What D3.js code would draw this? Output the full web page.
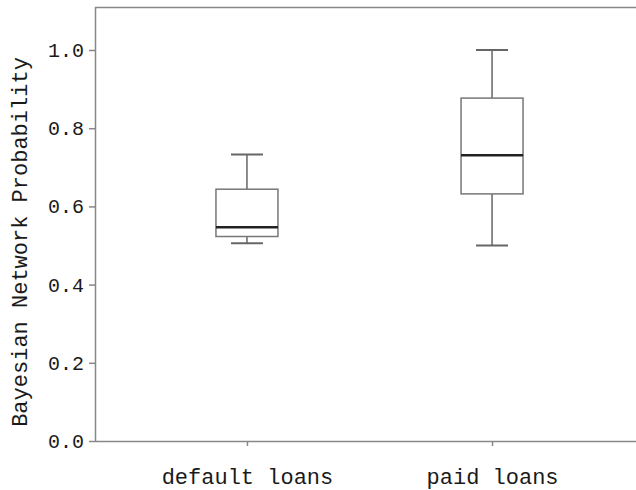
<!DOCTYPE html>
<html>
<head>
<meta charset="utf-8">
<script src="https://cdn.jsdelivr.net/npm/d3@7"></script>
<style>
  body { margin: 0; background: #fff; }
  text { font-family: "Liberation Mono", "DejaVu Sans Mono", monospace; fill: #1a1a1a; }
</style>
</head>
<body>
<svg class="chart"></svg>
<script>
var categories = ["default loans", "paid loans"];
// five-number summaries: lower whisker, q1, median, q3, upper whisker
var lowWhisker = [0.506, 0.500];
var q1 = [0.523, 0.632];
var median = [0.547, 0.731];
var q3 = [0.644, 0.877];
var highWhisker = [0.733, 1.0];
var yTicks = [0, 0.2, 0.4, 0.6, 0.8, 1.0];

var width = 636, height = 490,
    plotLeft = 95, plotTop = 7, plotBottom = 441;

var svg = d3.select(".chart")
    .attr("width", width)
    .attr("height", height);

var y = d3.scaleLinear().domain([0, 1.11]).range([plotBottom, plotTop]);

// the plot runs a bit past the right edge of the picture
var x = d3.scalePoint().domain(categories).range([plotLeft, 644]).padding(0.62);

var boxW = 62, capW = 32;

var boxes = categories.map(function(c, i) {
    return {name: c, lo: lowWhisker[i], q1: q1[i], med: median[i], q3: q3[i], hi: highWhisker[i]};
});

// frame: top line
svg.append("line")
    .attr("x1", plotLeft).attr("x2", width)
    .attr("y1", plotTop + 0.5).attr("y2", plotTop + 0.5)
    .attr("stroke", "#888").attr("stroke-width", 1.5);

// y axis
var yAxis = svg.append("g")
    .attr("transform", "translate(" + plotLeft + ",0)")
    .call(d3.axisLeft(y).tickValues(yTicks).tickFormat(d3.format(".1f")).tickSize(6).tickPadding(5));
yAxis.select(".domain").attr("d", "M0.5," + plotTop + "V" + plotBottom);

// x axis
var xAxis = svg.append("g")
    .attr("transform", "translate(0," + plotBottom + ")")
    .call(d3.axisBottom(x).tickSize(5).tickPadding(22));
xAxis.select(".domain").attr("d", "M" + plotLeft + ",0.5H" + width);

svg.selectAll(".domain, .tick line").attr("stroke", "#888").attr("stroke-width", 1.5);
yAxis.selectAll("text").style("font-size", "20px").attr("fill", "#1a1a1a");
xAxis.selectAll("text").style("font-size", "22px").attr("fill", "#1a1a1a");

svg.append("text")
    .attr("transform", "translate(27,242) rotate(-90)")
    .attr("text-anchor", "middle")
    .style("font-size", "22px")
    .text("Bayesian Network Probability");

var g = svg.selectAll(".box").data(boxes).enter().append("g").attr("class", "box");

// whiskers
g.append("line")
    .attr("x1", function(d) { return x(d.name); })
    .attr("x2", function(d) { return x(d.name); })
    .attr("y1", function(d) { return y(d.hi); })
    .attr("y2", function(d) { return y(d.q3); })
    .attr("stroke", "#666").attr("stroke-width", 1.5);
g.append("line")
    .attr("x1", function(d) { return x(d.name); })
    .attr("x2", function(d) { return x(d.name); })
    .attr("y1", function(d) { return y(d.q1); })
    .attr("y2", function(d) { return y(d.lo); })
    .attr("stroke", "#666").attr("stroke-width", 1.5);

// caps
["hi", "lo"].forEach(function(k) {
    g.append("line")
        .attr("x1", function(d) { return x(d.name) - capW / 2; })
        .attr("x2", function(d) { return x(d.name) + capW / 2; })
        .attr("y1", function(d) { return y(d[k]); })
        .attr("y2", function(d) { return y(d[k]); })
        .attr("stroke", "#666").attr("stroke-width", 2);
});

// box
g.append("rect")
    .attr("x", function(d) { return x(d.name) - boxW / 2; })
    .attr("width", boxW)
    .attr("y", function(d) { return y(d.q3); })
    .attr("height", function(d) { return y(d.q1) - y(d.q3); })
    .attr("fill", "#fff")
    .attr("stroke", "#777").attr("stroke-width", 1.5);

// median
g.append("line")
    .attr("x1", function(d) { return x(d.name) - boxW / 2; })
    .attr("x2", function(d) { return x(d.name) + boxW / 2; })
    .attr("y1", function(d) { return y(d.med); })
    .attr("y2", function(d) { return y(d.med); })
    .attr("stroke", "#222").attr("stroke-width", 2.5);
</script>
</body>
</html>
